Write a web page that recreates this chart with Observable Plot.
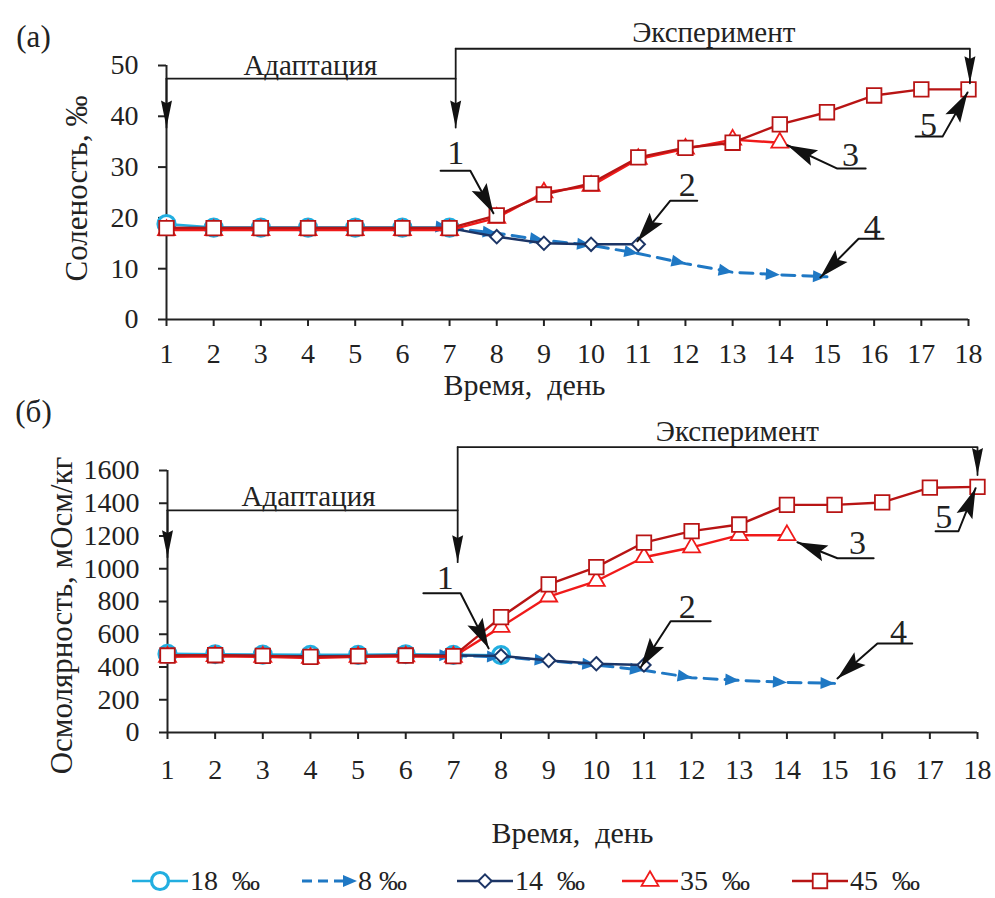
<!DOCTYPE html>
<html>
<head>
<meta charset="utf-8">
<script src="https://cdn.jsdelivr.net/npm/d3@7"></script>
<script src="https://cdn.jsdelivr.net/npm/@observablehq/plot@0.6"></script>
<style>
  body { margin: 0; background: #fff; }
  #chart { position: relative; width: 995px; height: 898px; font-family: "Liberation Serif", "Times New Roman", serif; color: #222; }
  #chart svg { font-family: "Liberation Serif", "Times New Roman", serif; font-size: 28px; color: #222; overflow: visible; background: transparent; }
  #top { position: absolute; left: 0; top: 0; }
  #bottom { position: absolute; left: 0; top: 400px; }
  #legend { position: absolute; left: 0; top: 864px; width: 995px; height: 34px; }
  .item { position: absolute; top: 0; display: flex; align-items: center; height: 34px; font-size: 28px; white-space: pre; }
  .item svg { display: block; }
</style>
</head>
<body>
<div id="chart">
  <div id="top"></div>
  <div id="bottom"></div>
  <div id="legend"></div>
</div>
<script>
// ---- data ----
const days = d3.range(1, 19);

// Salinity, ‰ (panel a), one value per day starting at firstDay
const sal18 = [18.8, 18.1, 18.1, 18.1, 18.1, 18.1, 18.1];
const sal8  = [18.0, 17.0, 15.6, 14.6, 13.0, 11.0, 9.3, 8.8, 8.4];
const sal14 = [18.0, 18.0, 18.0, 18.0, 18.0, 18.0, 18.0, 16.3, 15.0, 14.8, 14.8];
const sal35 = [17.6, 17.6, 17.6, 17.6, 17.6, 17.6, 17.6, 20.0, 25.0, 26.3, 31.6, 33.6, 35.4, 34.8];
const sal45 = [18.0, 18.0, 18.0, 18.0, 18.0, 18.0, 18.0, 20.5, 24.6, 26.8, 31.9, 33.8, 34.8, 38.4, 40.8, 44.1, 45.3, 45.3];

// Osmolarity, mOsm/kg (panel б)
const osm18 = [480, 478, 476, 474, 474, 478, 474, 472];
const osm8  = [470, 462, 438, 412, 380, 335, 318, 306, 300];
const osm14 = [470, 470, 468, 466, 468, 470, 470, 468, 440, 420, 412];
const osm35 = [462, 466, 462, 455, 462, 464, 462, 645, 830, 925, 1070, 1130, 1205, 1205];
const osm45 = [470, 472, 468, 462, 466, 470, 466, 705, 905, 1010, 1160, 1230, 1270, 1390, 1390, 1405, 1495, 1500];

const seriesLabels = ["18 ‰", "8 ‰", "14 ‰", "35 ‰", "45 ‰"];
const legendLabels = ["18  ‰", "8 ‰", "14  ‰", "35  ‰", "45  ‰"];
const firstDay = [1, 7, 1, 1, 1];

const salTicks = [0, 10, 20, 30, 40, 50];
const osmTicks = [0, 200, 400, 600, 800, 1000, 1200, 1400, 1600];
const xTitle = "Время,\u00a0\u00a0день";

// Phase brackets (day, value); "arrow" paths end in an arrowhead
const salPhases = [
  {arrow: false, pts: [[1, 47.4], [7.13, 47.4]]},
  {arrow: true,  pts: [[1, 47.4], [1, 37.8]]},
  {arrow: true,  pts: [[7.13, 53.3], [7.13, 37.8]]},
  {arrow: true,  pts: [[7.13, 53.3], [18.03, 53.3], [18.03, 46.5]]}
];
const salPhaseText = [
  {text: "Адаптация", day: 4.05, v: 50.0},
  {text: "Эксперимент", day: 12.6, v: 56.5}
];
// Numbered callouts: label position and leader (underline, then arrow to the point)
const salCallouts = [
  {n: "1", at: [7.13, 32.7], pts: [[6.81, 29.3], [7.44, 29.3], [7.93, 20.9]]},
  {n: "2", at: [12.04, 26.4], pts: [[12.25, 23.4], [11.68, 23.4], [10.98, 15.4]]},
  {n: "3", at: [15.5, 32.3], pts: [[15.82, 29.7], [15.22, 29.7], [14.16, 34.3]]},
  {n: "4", at: [15.96, 18.1], pts: [[16.2, 15.9], [15.67, 15.9], [14.86, 8.3]]},
  {n: "5", at: [17.15, 38.2], pts: [[16.88, 36.0], [17.45, 36.0], [17.98, 44.7]]}
];

const osmPhases = [
  {arrow: false, pts: [[1, 1357], [7.09, 1357]]},
  {arrow: true,  pts: [[1, 1357], [1, 1070]]},
  {arrow: true,  pts: [[7.09, 1743], [7.09, 1040]]},
  {arrow: true,  pts: [[7.09, 1743], [18, 1743], [18, 1572]]}
];
const osmPhaseText = [
  {text: "Адаптация", day: 3.96, v: 1437},
  {text: "Эксперимент", day: 12.96, v: 1835}
];
const osmCallouts = [
  {n: "1", at: [6.83, 942], pts: [[6.37, 850], [7.15, 850], [7.74, 514]]},
  {n: "2", at: [11.91, 764], pts: [[12.4, 679], [11.56, 679], [10.93, 397]]},
  {n: "3", at: [15.48, 1156], pts: [[15.82, 1064], [15.06, 1064], [14.22, 1162]]},
  {n: "4", at: [16.34, 612], pts: [[16.63, 544], [15.9, 544], [15.06, 330]]},
  {n: "5", at: [17.29, 1315], pts: [[17.12, 1229], [17.6, 1229], [17.96, 1492]]}
];

// ---- styles ----
const serif = "'Liberation Serif', 'Times New Roman', serif";
const look = {
  "18 ‰": {color: "#22aee0", symbol: "circle", r: 8.5, sw: 3.2, lw: 2.6},
  "8 ‰":  {color: "#1f78c4", arrow: true, lw: 3, dash: "13,8"},
  "14 ‰": {color: "#1c3566", symbol: "diamond2", r: 6, sw: 2, lw: 2.4},
  "35 ‰": {color: "#f01a1a", symbol: "triangle", r: 6.3, sw: 1.8, lw: 2.4},
  "45 ‰": {color: "#b81414", symbol: "square", r: 8.2, sw: 1.8, lw: 2.4}
};

// Filled arrowhead with its tip at the origin, pointing along +x
function head(L, W, notch) {
  return {
    draw(ctx) {
      ctx.moveTo(0, 0);
      ctx.lineTo(-L, -W);
      ctx.lineTo(-L * notch, 0);
      ctx.lineTo(-L, W);
      ctx.closePath();
    }
  };
}
const seriesHead = head(14, 6, 1);
const phaseHead = head(27, 5.5, 0.9);
const calloutHead = head(30, 8.5, 0.82);

function toRows(values, i) {
  return values.map((v, k) => ({day: firstDay[i] + k, value: v, series: seriesLabels[i]}));
}

function panel(cfg) {
  const {W, H, m, yDomain, yTicks, series, phases, phaseText, callouts} = cfg;
  const sx = Plot.scale({x: {domain: [1, 18], range: [m.left, W - m.right]}});
  const sy = Plot.scale({y: {domain: yDomain, range: [H - m.bottom, m.top]}});
  const angle = (a, b) =>
    Math.atan2(sy.apply(b[1]) - sy.apply(a[1]), sx.apply(b[0]) - sx.apply(a[0])) * 180 / Math.PI;

  const marks = [];
  // axes
  marks.push(Plot.ruleY([yDomain[0]], {stroke: "#222", strokeWidth: 2}));
  marks.push(Plot.ruleX([1], {stroke: "#222", strokeWidth: 2}));
  marks.push(Plot.axisX({ticks: days, tickSize: 7, tickPadding: cfg.xPad, tickFormat: (d) => String(d), label: null,
    stroke: "#222", strokeWidth: 2, fontSize: 28, fontFamily: serif, fill: "#222"}));
  marks.push(Plot.axisY({ticks: yTicks, tickSize: 8, tickPadding: 20, tickFormat: (d) => String(d), label: null,
    stroke: "#222", strokeWidth: 2, fontSize: 28, fontFamily: serif, fill: "#222"}));

  // series
  series.forEach((values, i) => {
    const rows = toRows(values, i);
    const lk = look[seriesLabels[i]];
    marks.push(Plot.line(rows, {x: "day", y: "value", stroke: lk.color, strokeWidth: lk.lw, strokeDasharray: lk.dash}));
    if (lk.arrow) {
      const rot = rows.map((d, k) => {
        const a = k > 0 ? rows[k - 1] : d, b = k > 0 ? d : rows[k + 1];
        return angle([a.day, a.value], [b.day, b.value]);
      });
      marks.push(Plot.dot(rows, {x: "day", y: "value", symbol: seriesHead, fill: lk.color, stroke: "none", rotate: (d, k) => rot[k]}));
    } else {
      marks.push(Plot.dot(rows, {x: "day", y: "value", symbol: lk.symbol, r: lk.r, stroke: lk.color, strokeWidth: lk.sw, fill: "white"}));
    }
  });

  // phase brackets
  const phaseRows = phases.flatMap((p, id) => p.pts.map(([day, v]) => ({id, day, v})));
  marks.push(Plot.line(phaseRows, {x: "day", y: "v", z: "id", stroke: "#1a1a1a", strokeWidth: 1.8}));
  const phaseTips = phases.filter((p) => p.arrow).map((p) => {
    const n = p.pts.length;
    return {day: p.pts[n - 1][0], v: p.pts[n - 1][1], a: angle(p.pts[n - 2], p.pts[n - 1])};
  });
  marks.push(Plot.dot(phaseTips, {x: "day", y: "v", symbol: phaseHead, rotate: "a", fill: "#111", stroke: "none"}));
  marks.push(Plot.text(phaseText, {x: "day", y: "v", text: "text", fontSize: 29, fontFamily: serif, fill: "#222"}));

  // numbered callouts
  const calloutRows = callouts.flatMap((c, id) => c.pts.map(([day, v]) => ({id, day, v})));
  marks.push(Plot.line(calloutRows, {x: "day", y: "v", z: "id", stroke: "#111", strokeWidth: 2}));
  const calloutTips = callouts.map((c) => {
    const n = c.pts.length;
    return {day: c.pts[n - 1][0], v: c.pts[n - 1][1], a: angle(c.pts[n - 2], c.pts[n - 1])};
  });
  marks.push(Plot.dot(calloutTips, {x: "day", y: "v", symbol: calloutHead, rotate: "a", fill: "#111", stroke: "none"}));
  marks.push(Plot.text(callouts, {x: (d) => d.at[0], y: (d) => d.at[1], text: "n", fontSize: 34, fontFamily: serif, fill: "#222"}));

  // titles
  const centered = {textAnchor: "middle", lineAnchor: "middle", fill: "#222", fontFamily: serif};
  marks.push(Plot.text([xTitle], {...centered, frameAnchor: "bottom", dx: cfg.xTitleDx, dy: cfg.xTitleDy, fontSize: 30}));
  marks.push(Plot.text([cfg.yLabel], {...centered, frameAnchor: "left", rotate: -90, dx: cfg.yTitleDx, dy: cfg.yTitleDy, fontSize: 31}));
  marks.push(Plot.text([cfg.tag], {...centered, frameAnchor: "top-left", dx: cfg.tagDx, dy: cfg.tagDy, fontSize: 31}));

  return Plot.plot({
    width: W,
    height: H,
    marginTop: m.top,
    marginRight: m.right,
    marginBottom: m.bottom,
    marginLeft: m.left,
    x: {domain: [1, 18]},
    y: {domain: yDomain},
    marks
  });
}

document.getElementById("top").append(panel({
  W: 995, H: 400, m: {top: 65, right: 27, bottom: 81, left: 166},
  yDomain: [0, 50], yTicks: salTicks,
  series: [sal18, sal8, sal14, sal35, sal45],
  phases: salPhases, phaseText: salPhaseText, callouts: salCallouts,
  xPad: 17, xTitleDx: -43, xTitleDy: 66,
  yLabel: "Соленость, ‰", yTitleDx: -89, yTitleDy: -4,
  tag: "(a)", tagDx: -133, tagDy: -28
}));

document.getElementById("bottom").append(panel({
  W: 995, H: 455, m: {top: 70, right: 18, bottom: 123, left: 167},
  yDomain: [0, 1600], yTicks: osmTicks,
  series: [osm18, osm8, osm14, osm35, osm45],
  phases: osmPhases, phaseText: osmPhaseText, callouts: osmCallouts,
  xPad: 20, xTitleDx: 0, xTitleDy: 101,
  yLabel: "Осмолярность, мОсм/кг", yTitleDx: -105, yTitleDy: 14,
  tag: "(б)", tagDx: -134, tagDy: -58
}));

// ---- legend ----
const legendLeft = [130, 300, 455, 620, 790];
const legend = d3.select("#legend");
seriesLabels.forEach((name, i) => {
  const lk = look[name];
  const item = legend.append("div").attr("class", "item").style("left", legendLeft[i] + "px");
  const svg = item.append("svg").attr("width", lk.arrow ? 58 : 60).attr("height", 34);
  svg.append("line")
    .attr("x1", 2).attr("x2", lk.arrow ? 50 : 58).attr("y1", 17).attr("y2", 17)
    .attr("stroke", lk.color).attr("stroke-width", lk.lw)
    .attr("stroke-dasharray", lk.arrow ? "10,6" : null);
  if (lk.arrow) {
    const p = d3.path();
    seriesHead.draw(p);
    svg.append("path").attr("transform", "translate(57,17)").attr("d", p.toString()).attr("fill", lk.color);
  } else {
    const types = {circle: d3.symbolCircle, diamond2: d3.symbolDiamond2, triangle: d3.symbolTriangle, square: d3.symbolSquare};
    svg.append("path")
      .attr("transform", "translate(30,17)")
      .attr("d", d3.symbol(types[lk.symbol], Math.PI * lk.r * lk.r)())
      .attr("fill", "white").attr("stroke", lk.color).attr("stroke-width", lk.sw);
  }
  item.append("span").text(legendLabels[i]);
});
</script>
</body>
</html>
